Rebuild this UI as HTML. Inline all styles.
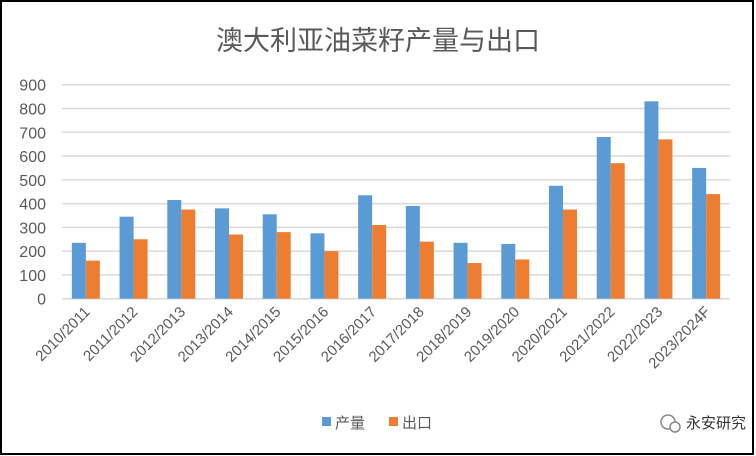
<!DOCTYPE html>
<html><head><meta charset="utf-8"><style>
html,body{margin:0;padding:0;background:#fff}
svg{display:block;font-family:"Liberation Sans","Noto Sans CJK SC",sans-serif}
</style></head><body>
<svg width="756" height="456" viewBox="0 0 756 456">
<rect x="1" y="1" width="752" height="453" fill="#fff" stroke="#000" stroke-width="2"/>
<text x="378" y="50" text-anchor="middle" font-size="27" fill="#595959">澳大利亚油菜籽产量与出口</text>
<g id="grid"></g><g id="yticks"></g><g id="bars"></g><g id="xlabels"></g>
<g>
<rect x="322" y="417" width="9" height="9" fill="#5B9BD5"/>
<text x="335" y="428" font-size="15" fill="#595959">产量</text>
<rect x="389" y="417" width="9" height="9" fill="#ED7D31"/>
<text x="402" y="428" font-size="15" fill="#595959">出口</text>
</g>
<g>
<circle cx="668" cy="422" r="7" fill="none" stroke="#888" stroke-width="1.5"/>
<circle cx="675" cy="427" r="5" fill="#fff" stroke="#888" stroke-width="1.5"/>
<text x="686" y="428" font-size="15" fill="#333">永安研究</text>
</g>
</svg>
<script>
const categories=["2010/2011","2011/2012","2012/2013","2013/2014","2014/2015","2015/2016","2016/2017","2017/2018","2018/2019","2019/2020","2020/2021","2021/2022","2022/2023","2023/2024F"];
const production=[235,345,415,380,355,275,435,390,235,230,475,680,830,550];
const exportsData=[160,250,375,270,280,200,310,240,150,165,375,570,670,440];
const yTicks=[0,100,200,300,400,500,600,700,800,900];
const NS="http://www.w3.org/2000/svg";
const x0=62,x1=730,yBase=298.7,yTop=84.7,yMax=900;
const bw=(x1-x0)/categories.length;
function y(v){return yBase-(v/yMax)*(yBase-yTop);}
function xc(i){return x0+bw*(i+0.5);}
function mk(tag,attrs,parent){const e=document.createElementNS(NS,tag);for(const k in attrs)e.setAttribute(k,attrs[k]);parent.appendChild(e);return e;}
const grid=document.getElementById('grid'),yt=document.getElementById('yticks'),bars=document.getElementById('bars'),xl=document.getElementById('xlabels');
yTicks.forEach(t=>{
  const l=mk('line',{x1:x0,x2:x1,y1:y(t),y2:y(t),stroke:'#d9d9d9','stroke-width':1.5},grid);
  
  
  const tx=mk('text',{x:46,y:y(t)+6,'text-anchor':'end','font-size':16,fill:'#595959'},yt);
  tx.textContent=t;
  
  
});
const barW=14;
categories.forEach((c,i)=>{
  const cx=xc(i);
  const b1=mk('rect',{x:cx-barW,y:y(production[i]),width:barW,height:yBase-y(production[i]),fill:'#5B9BD5'},bars);
  
  
  const b2=mk('rect',{x:cx,y:y(exportsData[i]),width:barW,height:yBase-y(exportsData[i]),fill:'#ED7D31'},bars);
  
  
  const t=mk('text',{x:cx+5,y:yBase+14,'text-anchor':'end','font-size':15,fill:'#595959',transform:`rotate(-45 ${cx+5} ${yBase+14})`},xl);
  t.textContent=c;
  
  
});
</script>
</body></html>
